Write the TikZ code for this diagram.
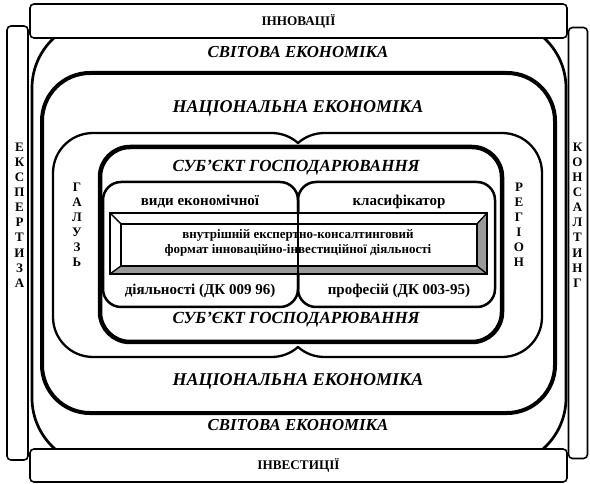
\documentclass[tikz,border=0pt]{standalone}
\usepackage{fontspec}
\setmainfont{Liberation Serif}
\begin{document}
\begin{tikzpicture}[x=1pt,y=-1pt,
  sidebox/.style={draw,line width=1.6pt,fill=white,rounded corners=4pt,inner sep=0pt},
  worldtext/.style={font=\fontsize{16.8}{18}\selectfont\bfseries\itshape},
  subtext/.style={font=\fontsize{17}{18}\selectfont\bfseries\itshape},
  nattext/.style={font=\fontsize{18}{20}\selectfont\bfseries\itshape},
  boxtext/.style={font=\fontsize{13.2}{14}\selectfont\bfseries},
  classtext/.style={font=\fontsize{15}{16}\selectfont\bfseries},
  coretext/.style={font=\fontsize{13}{15.5}\selectfont\bfseries,align=center},
  vletters/.style={font=\fontsize{13}{15.1}\selectfont\bfseries,align=center,inner sep=0pt},
  litbevel/.style={draw,line width=1.2pt,fill=white,line join=round},
  darkbevel/.style={draw,line width=1.2pt,fill=black!40,line join=round}
]
\useasboundingbox (0,0) rectangle (590,484);

% world economy ring
\draw[line width=2.7pt,rounded corners=68pt] (32,20) rectangle (566,466);

% frame boxes
\node[sidebox,minimum width=21pt,minimum height=434pt] (expbox) at (17.5,243) {};
\node[sidebox,minimum width=19pt,minimum height=431pt] (consbox) at (578,243) {};
\node[sidebox,minimum width=537pt,minimum height=34pt] (innobox) at (298.5,21) {};
\node[sidebox,minimum width=537pt,minimum height=33pt] (invbox) at (298.5,465.5) {};

\node[boxtext] (innotext) at (innobox) {ІННОВАЦІЇ};
\node[boxtext] (invtext) at (invbox) {ІНВЕСТИЦІЇ};
\node[vletters] (exptext) at (19.5,215) {Е\\К\\С\\П\\Е\\Р\\Т\\И\\З\\А};
\node[vletters] (constext) at (577.5,215) {К\\О\\Н\\С\\А\\Л\\Т\\И\\Н\\Г};

% national economy ring
\draw[line width=4pt,rounded corners=48pt] (42,73) rectangle (555,413);

% branch and region: two joined rounded blocks
\draw[line width=2.3pt,line join=round]
  (298,143) .. controls (305.3,136.5) and (314.7,133) .. (324.5,133)
  -- (502,133) .. controls (524.1,133) and (542,150.9) .. (542,173)
  -- (542,317) .. controls (542,339.1) and (524.1,357) .. (502,357)
  -- (324.5,357) .. controls (314.7,357) and (305.3,353.5) .. (298,347)
  .. controls (290.7,353.5) and (281.3,357) .. (271.5,357)
  -- (93,357) .. controls (70.9,357) and (53,339.1) .. (53,317)
  -- (53,173) .. controls (53,150.9) and (70.9,133) .. (93,133)
  -- (271.5,133) .. controls (281.3,133) and (290.7,136.5) .. (298,143) -- cycle;

% business entity ring
\draw[line width=4.5pt,rounded corners=30pt] (100,147) rectangle (502,342);

% two classifier blocks
\draw[line width=2.5pt,rounded corners=18pt] (103,182) rectangle (298,307);
\draw[line width=2.5pt,rounded corners=18pt] (298,182) rectangle (495,307);

% central bevelled panel
\coordinate (o1) at (110,213);
\coordinate (o2) at (487,213);
\coordinate (o3) at (487,274);
\coordinate (o4) at (110,274);
\coordinate (i1) at (121,224);
\coordinate (i2) at (477,224);
\coordinate (i3) at (477,266);
\coordinate (i4) at (121,266);
\draw[litbevel] (o1) -- (o2) -- (i2) -- (i1) -- cycle;
\draw[litbevel] (o1) -- (i1) -- (i4) -- (o4) -- cycle;
\draw[darkbevel] (o2) -- (o3) -- (i3) -- (i2) -- cycle;
\draw[darkbevel] (o4) -- (i4) -- (i3) -- (o3) -- cycle;
\draw[line width=1.2pt,fill=white] (i1) rectangle (i3);
\draw[line width=2.6pt] (o1) rectangle (o3);

% shared edge of the classifier blocks, over the panel
\coordinate (splitTop) at (298,200);
\coordinate (splitBot) at (298,289);
\draw[line width=2pt] (splitTop) -- (splitBot);

% labels
\node[worldtext] (worldTop) at (298,52) {СВІТОВА ЕКОНОМІКА};
\node[worldtext] (worldBot) at (298,425) {СВІТОВА ЕКОНОМІКА};
\node[nattext] (natTop) at (298,108) {НАЦІОНАЛЬНА ЕКОНОМІКА};
\node[nattext] (natBot) at (298,381) {НАЦІОНАЛЬНА ЕКОНОМІКА};
\node[subtext] (subTop) at (296,168) {СУБ’ЄКТ ГОСПОДАРЮВАННЯ};
\node[subtext] (subBot) at (296,320) {СУБ’ЄКТ ГОСПОДАРЮВАННЯ};
\node[vletters] (branch) at (77,224.5) {Г\\А\\Л\\У\\З\\Ь};
\node[vletters] (region) at (519,224.5) {Р\\Е\\Г\\І\\О\\Н};
\node[classtext] (kindA) at (200,202) {види економічної};
\node[classtext] (kindB) at (200,291) {діяльності (ДК 009 96)};
\node[classtext] (profA) at (399,202) {класифікатор};
\node[classtext] (profB) at (399,291) {професій (ДК 003-95)};
\node[coretext] (core) at (298,243) {внутрішній експертно-консалтинговий\\формат інноваційно-інвестиційної діяльності};
\end{tikzpicture}
\end{document}
